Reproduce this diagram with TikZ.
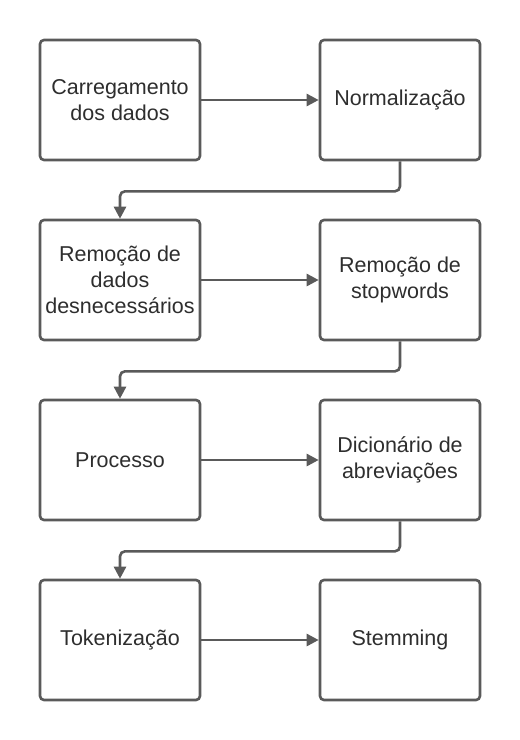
\documentclass[tikz,border=0pt]{standalone}
\usepackage{fontspec}
\setmainfont{Liberation Sans}
\usetikzlibrary{arrows.meta}
\definecolor{linecol}{HTML}{5A5A5A}
\definecolor{textcol}{HTML}{2E2E2E}
\begin{document}
\begin{tikzpicture}[x=1pt,y=-1pt,
  stepbox/.style={draw=linecol, line width=2.6pt, rounded corners=4pt, fill=white,
    minimum width=160pt, minimum height=120pt, inner sep=0pt, align=center,
    text=textcol, font=\fontsize{21.5}{26}\selectfont},
  conn/.style={draw=linecol, line width=2.6pt, rounded corners=5pt,
    -{Triangle[length=12pt,width=12pt]}}]
\useasboundingbox (0,0) rectangle (520,740);
\node[stepbox] (a) at (120,100) {Carregamento\\dos dados};
\node[stepbox] (b) at (400,100) {Normalização};
\node[stepbox] (c) at (120,280) {Remoção de\\dados\\desnecessários};
\node[stepbox] (d) at (400,280) {Remoção de\\stopwords};
\node[stepbox] (e) at (120,460) {Processo};
\node[stepbox] (f) at (400,460) {Dicionário de\\abreviações};
\node[stepbox] (g) at (120,640) {Tokenização};
\node[stepbox] (h) at (400,640) {Stemming};
\draw[conn] (a) -- (b);
\draw[conn] (c) -- (d);
\draw[conn] (e) -- (f);
\draw[conn] (g) -- (h);
\draw[conn] (b.south) -- ++(0,30) -| (c.north);
\draw[conn] (d.south) -- ++(0,30) -| (e.north);
\draw[conn] (f.south) -- ++(0,30) -| (g.north);
\end{tikzpicture}
\end{document}
